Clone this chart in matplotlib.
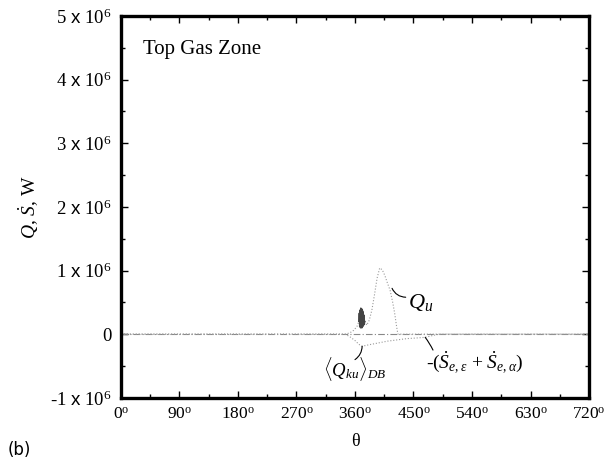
import matplotlib
matplotlib.use('Agg')
import matplotlib.pyplot as plt
from matplotlib.ticker import MultipleLocator

plt.rcParams['font.family'] = 'Liberation Serif'
plt.rcParams['mathtext.fontset'] = 'custom'
plt.rcParams['mathtext.rm'] = 'Liberation Serif'
plt.rcParams['mathtext.it'] = 'Liberation Serif:italic'
plt.rcParams['mathtext.sf'] = 'Liberation Sans'

# Q_u, heat transfer to the upper zone
theta_qu = [0, 345, 352, 358, 363, 366, 376, 378, 382, 386, 390, 394, 398,
            402, 406, 410, 414, 418, 421, 424, 426, 720]
q_u = [0, 0, 0.02, 0.06, 0.12, 0.2, 0.2, 0.14, 0.22, 0.38, 0.62, 0.88, 1.04,
       1.01, 0.92, 0.8, 0.69, 0.5, 0.33, 0.12, 0.0, 0]

# oscillating part (dark band)
theta_osc = [366, 366.6, 367.2, 367.8, 368.4, 369, 369.6, 370.2, 370.8,
             371.4, 372, 372.6, 373.2, 373.8, 374.4, 375]
q_osc = [0.2, 0.33, 0.12, 0.38, 0.1, 0.41, 0.1, 0.4, 0.1, 0.38, 0.12, 0.35,
         0.14, 0.3, 0.16, 0.2]

# -(S_e,eps + S_e,alpha) and <Q_ku>_DB, lower branch
theta_s = [0, 345, 352, 360, 366, 371, 380, 395, 410, 425, 440, 455, 468,
           480, 490, 720]
s_e = [0, 0, -0.04, -0.1, -0.16, -0.19, -0.17, -0.14, -0.11, -0.09, -0.07,
       -0.06, -0.05, -0.02, 0, 0]

xticks = [0, 90, 180, 270, 360, 450, 540, 630, 720]
yticks = [-1, 0, 1, 2, 3, 4, 5]

fig = plt.figure(figsize=(6.11, 4.68), dpi=100)
ax = fig.add_axes([0.198, 0.150, 0.766, 0.816])

ax.plot([0, 720], [0, 0], color='#888888', lw=0.8, ls=(0, (6, 2, 1, 2)))
ax.plot(theta_qu, [v * 1e6 for v in q_u], color='#9a9a9a', lw=0.8, ls=':')
ax.plot(theta_s, [v * 1e6 for v in s_e], color='#9a9a9a', lw=0.8, ls=':')
ax.plot(theta_osc, [v * 1e6 for v in q_osc], color='#444444', lw=1.0)

ax.set_xlim(0, 720)
ax.set_ylim(-1e6, 5e6)
ax.set_xticks(xticks)
ax.set_xticklabels([r'%d$^{\rm o}$' % t for t in xticks])
ax.set_yticks([v * 1e6 for v in yticks])
ax.set_yticklabels(['0' if v == 0 else r'%d $\mathsf{x}$ 10$^{6}$' % v
                    for v in yticks], fontsize=13.5)
ax.xaxis.set_minor_locator(MultipleLocator(45))
ax.yaxis.set_minor_locator(MultipleLocator(0.5e6))
ax.tick_params(which='both', direction='in', top=True, right=True, width=1)
ax.tick_params(axis='x', labelsize=12.5, pad=6)
ax.tick_params(axis='y', pad=7)
ax.tick_params(which='major', length=5)
ax.tick_params(which='minor', length=3)
for sp in ax.spines.values():
    sp.set_linewidth(2.4)

ax.set_xlabel('θ', fontsize=13, labelpad=8)
ax.set_ylabel(r'$\mathit{Q}$, $\dot{\mathit{S}}$, W', fontsize=14, labelpad=6)

ax.text(34, 4.47e6, 'Top Gas Zone', fontsize=15, va='center')

leader = dict(arrowstyle='-', lw=0.8, color='black', shrinkA=0, shrinkB=0)
ax.annotate('', xy=(417, 0.72e6), xytext=(438, 0.58e6),
            arrowprops=dict(leader, connectionstyle='arc3,rad=-0.3'))
ax.text(441, 0.5e6, r'$\mathit{Q}_u$', fontsize=16, va='center')

ax.annotate('', xy=(371, -0.19e6), xytext=(360, -0.4e6),
            arrowprops=dict(leader, connectionstyle='arc3,rad=0.25'))
ax.text(359, -0.55e6, r'$\langle\mathit{Q}_{ku}\rangle_{DB}$', fontsize=13.5,
        ha='center', va='center')

ax.annotate('', xy=(468, -0.05e6), xytext=(480, -0.25e6),
            arrowprops=dict(leader, connectionstyle='arc3,rad=0.05'))
ax.text(469, -0.44e6,
        r'-($\dot{\mathit{S}}_{e,\epsilon}$ + $\dot{\mathit{S}}_{e,\alpha}$)',
        fontsize=14, va='center')

fig.text(0.013, 0.038, '(b)', fontsize=12, family='DejaVu Sans', va='center')

fig.savefig('out.png', dpi=100)
